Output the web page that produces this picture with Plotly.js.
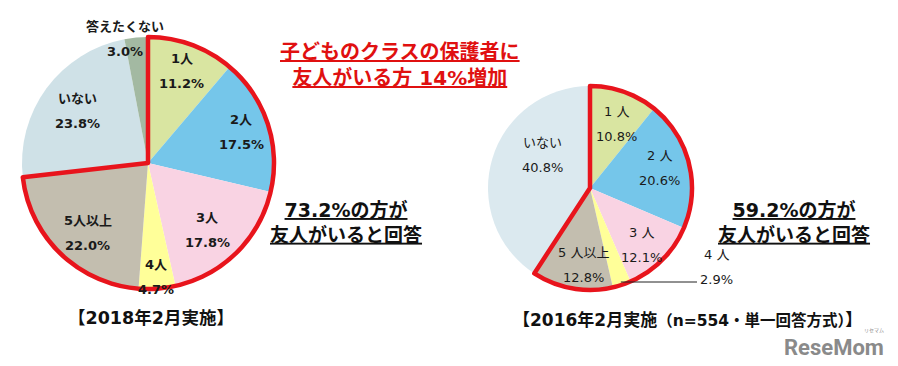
<!DOCTYPE html>
<html><head><meta charset="utf-8">
<script src="https://cdn.plot.ly/plotly-3.0.1.min.js"></script>
<style>html,body{margin:0;padding:0;background:#fff}#chart{width:898px;height:366px}</style>
</head><body><div id="chart"></div>
<script>
// ---- data ----
const categories2018 = ['1人','2人','3人','4人','5人以上','いない','答えたくない'];
const values2018 = [11.2, 17.5, 17.8, 4.7, 22.0, 23.8, 3.0];
const friendSlices2018 = 5; // first five categories: has friends
const categories2016 = ['1 人','2 人','3 人','4 人','5 人以上','いない'];
const values2016 = [10.8, 20.6, 12.1, 2.9, 12.8, 40.8];
const friendSlices2016 = 5;
const titleLines = ['子どものクラスの保護者に', '友人がいる方 14%増加'];
const summary2018 = ['73.2%の方が', '友人がいると回答'];
const summary2016 = ['59.2%の方が', '友人がいると回答'];
const caption2018 = '【2018年2月実施】';
const caption2016Main = '【2016年2月実施';
const caption2016Note = '（n=554・単一回答方式）';
const caption2016End = '】';

// ---- styles / geometry ----
const W = 898, H = 366;
const colors2018 = ['#d9e5a1','#75c6ea','#f9d3e3','#ffff99','#c3beaf','#cfe1e7','#a3b9a2'];
const colors2016 = ['#d9e5a1','#75c6ea','#f9d3e3','#ffff99','#c3beaf','#dbe9ef'];
const RED = '#e8141c';
const geo2018 = {cx:148, cy:163, r:126};
const geo2016 = {cx:590, cy:188, r:102};
// [radius fraction, angle shift deg] ; 'out' = outside with leader line
const labelPos2018 = [[0.78,0],[0.78,0],[0.71,3],[0.91,0],[0.73,-3],[0.69,0],[1.0,-5]];
const labelPos2016 = [[0.68,2.6],[0.705,-2],[0.755,3],'out',[0.757,-5.5],[0.57,18]];
const FONT = 'DejaVu Sans, Noto Sans CJK JP';

function domainOf(g){
  return {x:[(g.cx-g.r)/W,(g.cx+g.r)/W], y:[1-(g.cy+g.r)/H, 1-(g.cy-g.r)/H]};
}
function px(x){return x/W;} function py(y){return 1-y/H;}

const annotations = [];
const shapes = [];
function sum(a){return a.reduce((s,v)=>s+v,0);}

function addLabels(cats, vals, geo, pos, bold){
  const total = sum(vals);
  let cum = 0;
  vals.forEach((v,i)=>{
    const mid = (cum + v/2)/total*360; cum += v;
    const p = pos[i];
    const fnt = {family:FONT, size:13, color:'#1a1a1a', weight: bold?'bold':'normal'};
    const valTxt = v.toFixed(1)+'%';
    if (p === 'out'){
      const a = mid*Math.PI/180, rr = geo.r*0.97;
      const x0 = geo.cx + rr*Math.sin(a), y0 = geo.cy - rr*Math.cos(a);
      const x1 = 697;
      shapes.push({type:'line', xref:'paper', yref:'paper', x0:px(x0), y0:py(y0), x1:px(x1), y1:py(y0), line:{color:'#222', width:1}});
      annotations.push({xref:'paper', yref:'paper', x:px(x1+1), y:py(y0-3), xanchor:'left', yanchor:'middle', text:valTxt, showarrow:false, font:fnt});
      annotations.push({xref:'paper', yref:'paper', x:px(x1+19), y:py(y0-28), xanchor:'center', yanchor:'middle', text:cats[i], showarrow:false, font:fnt});
      return;
    }
    const a = (mid + p[1])*Math.PI/180, rr = geo.r*p[0];
    const x = geo.cx + rr*Math.sin(a), y = geo.cy - rr*Math.cos(a);
    annotations.push({xref:'paper', yref:'paper', x:px(x), y:py(y-12.5), xanchor:'center', yanchor:'middle', text:cats[i], showarrow:false, font:fnt});
    annotations.push({xref:'paper', yref:'paper', x:px(x), y:py(y+12.5), xanchor:'center', yanchor:'middle', text:valTxt, showarrow:false, font:fnt});
  });
}
addLabels(categories2018, values2018, geo2018, labelPos2018, true);
addLabels(categories2016, values2016, geo2016, labelPos2016, false);

function pieTrace(cats, vals, colors, geo){
  return {type:'pie', labels:cats, values:vals, sort:false, direction:'clockwise', rotation:0,
    marker:{colors:colors, line:{width:0}}, textinfo:'none', hoverinfo:'skip', domain:domainOf(geo), showlegend:false};
}
function outlineTrace(vals, n, geo, name){
  const inVal = sum(vals.slice(0,n)), outVal = sum(vals.slice(n));
  return {type:'pie', labels:[name+'a', name+'b'], values:[inVal, outVal], sort:false, direction:'clockwise', rotation:0,
    marker:{colors:['rgba(0,0,0,0)','rgba(0,0,0,0)'], line:{color:[RED,'rgba(0,0,0,0)'], width:[4.5,0]}},
    textinfo:'none', hoverinfo:'skip', domain:domainOf(geo), showlegend:false};
}

const data = [
  pieTrace(categories2018, values2018, colors2018, geo2018),
  pieTrace(categories2016, values2016, colors2016, geo2016),
  outlineTrace(values2018, friendSlices2018, geo2018, 'o18'),
  outlineTrace(values2016, friendSlices2016, geo2016, 'o16')
];

annotations.push({xref:'paper', yref:'paper', x:px(400), y:py(65), xanchor:'center', yanchor:'middle',
  text:titleLines.map(t=>'<u>'+t+'</u>').join('<br>'), showarrow:false,
  font:{family:FONT, size:20, color:'#e01010', weight:'bold'}});
annotations.push({xref:'paper', yref:'paper', x:px(346), y:py(222), xanchor:'center', yanchor:'middle',
  text:summary2018.map(t=>'<u>'+t+'</u>').join('<br>'), showarrow:false,
  font:{family:FONT, size:19, color:'#111', weight:'bold'}});
annotations.push({xref:'paper', yref:'paper', x:px(794), y:py(222.5), xanchor:'center', yanchor:'middle',
  text:summary2016.map(t=>'<u>'+t+'</u>').join('<br>'), showarrow:false,
  font:{family:FONT, size:19, color:'#111', weight:'bold'}});
annotations.push({xref:'paper', yref:'paper', x:px(151), y:py(318), xanchor:'center', yanchor:'middle',
  text:caption2018, showarrow:false, font:{family:FONT, size:17.5, color:'#111', weight:'bold'}});
annotations.push({xref:'paper', yref:'paper', x:px(687), y:py(320), xanchor:'center', yanchor:'middle',
  text:caption2016Main+'<span style="font-size:15.5px">'+caption2016Note+'</span>'+caption2016End, showarrow:false,
  font:{family:FONT, size:17, color:'#111', weight:'bold'}});
annotations.push({xref:'paper', yref:'paper', x:px(834), y:py(347), xanchor:'center', yanchor:'middle',
  text:'ReseMom', showarrow:false, font:{family:'Roboto', size:22, color:'#8a8a8a', weight:'bold'}});
annotations.push({xref:'paper', yref:'paper', x:px(874), y:py(330), xanchor:'center', yanchor:'middle',
  text:'リセマム', showarrow:false, font:{family:'Noto Sans CJK JP', size:5, color:'#8a8a8a'}});

Plotly.newPlot('chart', data, {
  width:W, height:H, margin:{l:0,r:0,t:0,b:0}, paper_bgcolor:'#fff', plot_bgcolor:'#fff',
  showlegend:false, annotations:annotations, shapes:shapes
}, {staticPlot:true});
</script></body></html>
